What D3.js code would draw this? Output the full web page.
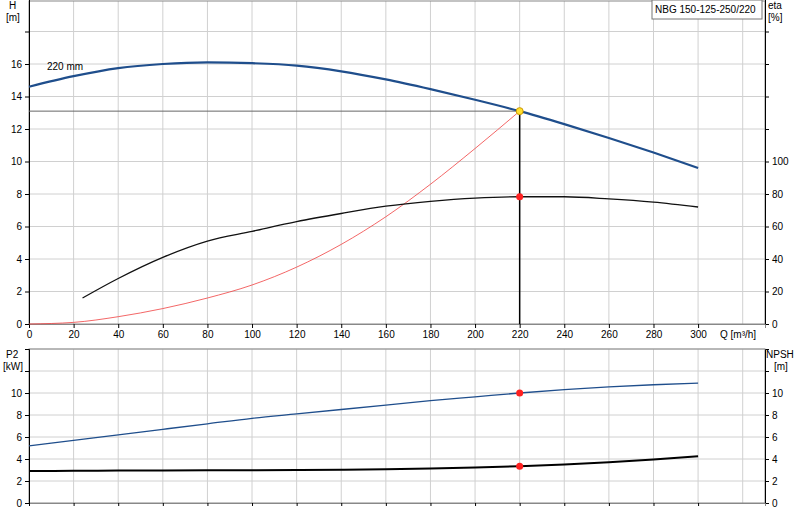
<!DOCTYPE html>
<html><head><meta charset="utf-8">
<script src="https://cdn.jsdelivr.net/npm/d3@7"></script>
<style>body{margin:0;background:#fff}text{font-family:"Liberation Sans",Arial,sans-serif;font-size:10px;fill:#000}</style>
</head><body><svg id="c" width="800" height="520"></svg>
<script>
var qH = [0,20,40,60,80,100,120,140,160,180,200,220,240,260,280,300];
var head = [14.6,15.25,15.75,16.0,16.1,16.05,15.9,15.55,15.05,14.45,13.8,13.1,12.3,11.45,10.55,9.6];
var qEta = [24,40,60,80,100,120,140,160,180,200,220,240,260,280,300];
var eta = [16,28,41,51,57,63,68,72.5,75.5,77.5,78.3,78.3,77,75,72];
var qSys = [0,20,40,60,80,100,120,140,160,180,200,220];
var sys = [0,0.1,0.45,0.95,1.6,2.4,3.5,4.9,6.6,8.6,10.8,13.1];
var p2 = [5.2,5.7,6.2,6.7,7.2,7.7,8.1,8.5,8.9,9.3,9.65,10.0,10.3,10.55,10.75,10.9];
var npsh = [2.9,2.93,2.95,2.96,2.97,2.98,3.0,3.03,3.07,3.13,3.22,3.35,3.5,3.7,3.95,4.25];
var duty = {q:220, h:13.1, eta:78.3, p2:10.0, npsh:3.35};

var svg = d3.select("#c");
var x = d3.scaleLinear().domain([0,330]).range([29,765]);
var yH = d3.scaleLinear().domain([0,20]).range([324,-1]);
var yE = d3.scaleLinear().domain([0,200]).range([324,-1]);
var yP = d3.scaleLinear().domain([0,14]).range([503,349]);

function grid(y, ticks, top, bot) {
  var g = svg.append("g").attr("stroke","#d0d0d0");
  g.selectAll(".v").data(d3.range(20,330,20)).enter().append("line")
    .attr("x1",x).attr("x2",x).attr("y1",top).attr("y2",bot);
  g.selectAll(".h").data(ticks).enter().append("line")
    .attr("x1",29).attr("x2",765).attr("y1",y).attr("y2",y);
  svg.append("rect").attr("x",29).attr("y",top).attr("width",736).attr("height",bot-top)
    .attr("fill","none").attr("stroke","#888");
}
grid(yH, d3.range(2,21,2), 1, 324);
grid(yP, d3.range(2,15,2), 349, 503);

function axes(yl, ticksL, yr, ticksR) {
  var l = svg.append("g").attr("transform","translate(29,0)")
    .call(d3.axisLeft(yl).tickValues(ticksL).tickSize(4).tickFormat(function(d){return d>=(yl===yH?18:12)?"":d;}));
  var r = svg.append("g").attr("transform","translate(765,0)")
    .call(d3.axisRight(yr).tickValues(ticksR).tickSize(4).tickFormat(function(d){return (yr===yE && d>100)||(yr===yP && d>=12)?"":d;}));
  [l,r].forEach(function(a){a.select(".domain").attr("stroke","#000");a.selectAll("text").style("font-size","10px");});
}
axes(yH, d3.range(0,19,2), yE, d3.range(0,181,20));
axes(yP, d3.range(0,13,2), yP, d3.range(0,13,2));

var xa = svg.append("g").attr("transform","translate(0,324)")
  .call(d3.axisBottom(x).tickValues(d3.range(0,301,20)).tickSize(4));
xa.select(".domain").attr("stroke","#888");
svg.append("g").attr("transform","translate(0,503)")
  .call(d3.axisBottom(x).tickValues(d3.range(0,301,20)).tickSize(3).tickFormat(""))
  .select(".domain").attr("stroke","#888");
svg.append("text").attr("x",720).attr("y",338).text("Q [m³/h]");

svg.append("text").attr("x",9).attr("y",9).text("H");
svg.append("text").attr("x",6).attr("y",21).text("[m]");
svg.append("text").attr("x",768).attr("y",9).text("eta");
svg.append("text").attr("x",768).attr("y",21).text("[%]");
svg.append("text").attr("x",6).attr("y",358).text("P2");
svg.append("text").attr("x",3).attr("y",370).text("[kW]");
svg.append("text").attr("x",766).attr("y",358).text("NPSH");
svg.append("text").attr("x",774).attr("y",370).text("[m]");
svg.append("text").attr("x",47).attr("y",70).text("220 mm");
svg.append("rect").attr("x",652).attr("y",0).attr("width",110).attr("height",19)
  .attr("fill","#fff").attr("stroke","#777");
svg.append("text").attr("x",655).attr("y",13).text("NBG 150-125-250/220");

svg.append("line").attr("x1",29).attr("x2",x(duty.q)).attr("y1",yH(duty.h)).attr("y2",yH(duty.h)).attr("stroke","#666");
svg.append("line").attr("x1",x(duty.q)).attr("x2",x(duty.q)).attr("y1",yH(duty.h)).attr("y2",324).attr("stroke","#000").attr("stroke-width",1.5);

function curve(qs, vs, y, color, w) {
  svg.append("path").datum(d3.zip(qs,vs)).attr("fill","none").attr("stroke",color).attr("stroke-width",w)
    .attr("d", d3.line().x(function(d){return x(d[0]);}).y(function(d){return y(d[1]);}).curve(d3.curveMonotoneX));
}
curve(qSys, sys, yH, "#f04040", 0.8);
curve(qH, head, yH, "#1f4e8c", 2.2);
curve(qEta, eta, yE, "#111", 1.3);
curve(qH, p2, yP, "#1f4e8c", 1.3);
curve(qH, npsh, yP, "#000", 2);

function dot(v, y, c) {
  svg.append("circle").attr("cx",x(duty.q)).attr("cy",y(v)).attr("r",3.5).attr("fill",c).attr("stroke", c==="#ffe030"?"#c90":"none");
}
dot(duty.h, yH, "#ffe030");
dot(duty.eta, yE, "#ff2020");
dot(duty.p2, yP, "#ff2020");
dot(duty.npsh, yP, "#ff2020");
</script></body></html>
